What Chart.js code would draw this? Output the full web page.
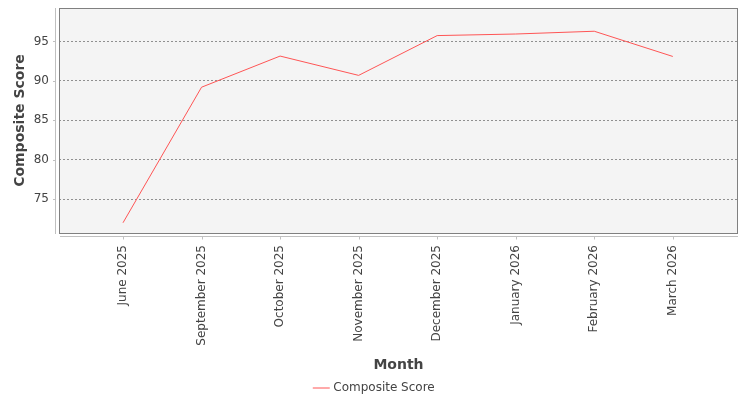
<!DOCTYPE html>
<html>
<head>
<meta charset="utf-8">
<script src="https://cdn.jsdelivr.net/npm/chart.js@4/dist/chart.umd.min.js"></script>
<style>
  html, body { margin: 0; padding: 0; background: #ffffff; }
  #wrap { width: 750px; height: 400px; }
</style>
</head>
<body>
<div id="wrap"><canvas id="scoreChart" width="750" height="400"></canvas></div>
<script>
// Months on the category axis
const months = ['June 2025', 'September 2025', 'October 2025', 'November 2025',
    'December 2025', 'January 2026', 'February 2026', 'March 2026'];

// Composite score per month
const compositeScore = [72.0, 89.2, 93.15, 90.7, 95.75, 95.95, 96.3, 93.1];

// Y axis tick labels
const yTicks = [75, 80, 85, 90, 95];

const fontFamily = '"DejaVu Sans", sans-serif';

// Plot background, frame and the detached axis lines
const plotFrame = {
    id: 'plotFrame',
    beforeDraw(chart) {
        const { ctx, chartArea: a } = chart;
        ctx.save();
        ctx.fillStyle = '#f4f4f4';
        ctx.fillRect(a.left, a.top, a.right - a.left, a.bottom - a.top);
        ctx.restore();
    },
    afterDraw(chart) {
        const { ctx, chartArea: a, scales } = chart;
        ctx.save();
        ctx.lineWidth = 1;
        ctx.strokeStyle = '#808080';
        ctx.strokeRect(a.left + 0.5, a.top + 0.5, a.right - a.left - 1, a.bottom - a.top);

        // y axis line + ticks
        ctx.strokeStyle = '#c0c0c0';
        ctx.beginPath();
        ctx.moveTo(a.left - 3.5, a.top);
        ctx.lineTo(a.left - 3.5, a.bottom + 1);
        yTicks.forEach(v => {
            const y = Math.round(scales.y.getPixelForValue(v)) + 0.5;
            ctx.moveTo(a.left - 6, y);
            ctx.lineTo(a.left - 3.5, y);
        });
        // x axis line + ticks
        ctx.moveTo(a.left + 1, a.bottom + 3.5);
        ctx.lineTo(a.right, a.bottom + 3.5);
        months.forEach((m, i) => {
            const x = Math.round(scales.x.getPixelForValue(i)) + 0.5;
            ctx.moveTo(x, a.bottom + 3.5);
            ctx.lineTo(x, a.bottom + 6.5);
        });
        ctx.stroke();
        ctx.restore();
    }
};

const ctx = document.getElementById('scoreChart').getContext('2d');

new Chart(ctx, {
    type: 'line',
    data: {
        datasets: [{
            label: 'Composite Score',
            data: compositeScore.map((v, i) => ({ x: i, y: v })),
            borderColor: '#ff5555',
            backgroundColor: '#ff5555',
            borderWidth: 1,
            pointRadius: 0,
            tension: 0
        }]
    },
    options: {
        responsive: false,
        animation: false,
        layout: { padding: { top: 8, right: 0, left: 0, bottom: -4 } },
        plugins: {
            legend: {
                position: 'bottom',
                labels: {
                    usePointStyle: true,
                    pointStyle: 'line',
                    boxWidth: 15,
                    padding: 6,
                    color: '#444444',
                    font: { family: fontFamily, size: 12 }
                }
            },
            tooltip: { enabled: false }
        },
        scales: {
            x: {
                type: 'linear',
                min: -0.815,
                max: 7.83,
                afterBuildTicks: scale => { scale.ticks = months.map((m, i) => ({ value: i })); },
                afterFit: scale => {
                    scale.height = 143;
                    scale.paddingLeft = 0;
                    scale.paddingRight = 12;
                },
                grid: { display: false, drawTicks: false },
                border: { display: false },
                ticks: {
                    callback: value => months[value],
                    minRotation: 90,
                    maxRotation: 90,
                    padding: 12,
                    color: '#444444',
                    font: { family: fontFamily, size: 12 }
                },
                title: {
                    display: true,
                    text: 'Month',
                    color: '#444444',
                    padding: { top: 0, bottom: 2 },
                    font: { family: fontFamily, size: 14, weight: 'bold' }
                }
            },
            y: {
                min: 70.7,
                max: 99.25,
                afterBuildTicks: scale => { scale.ticks = yTicks.map(v => ({ value: v })); },
                afterFit: scale => {
                    scale.width = 59;
                    scale.paddingTop = 0;
                    scale.paddingBottom = 0;
                },
                grid: {
                    color: '#909090',
                    drawTicks: false,
                    lineWidth: 1
                },
                border: { display: false, dash: [2, 2] },
                ticks: {
                    padding: 10,
                    color: '#444444',
                    font: { family: fontFamily, size: 12 }
                },
                title: {
                    display: true,
                    text: 'Composite Score',
                    color: '#444444',
                    padding: { top: 12, bottom: 0 },
                    font: { family: fontFamily, size: 14, weight: 'bold' }
                }
            }
        }
    },
    plugins: [plotFrame]
});
</script>
</body>
</html>
